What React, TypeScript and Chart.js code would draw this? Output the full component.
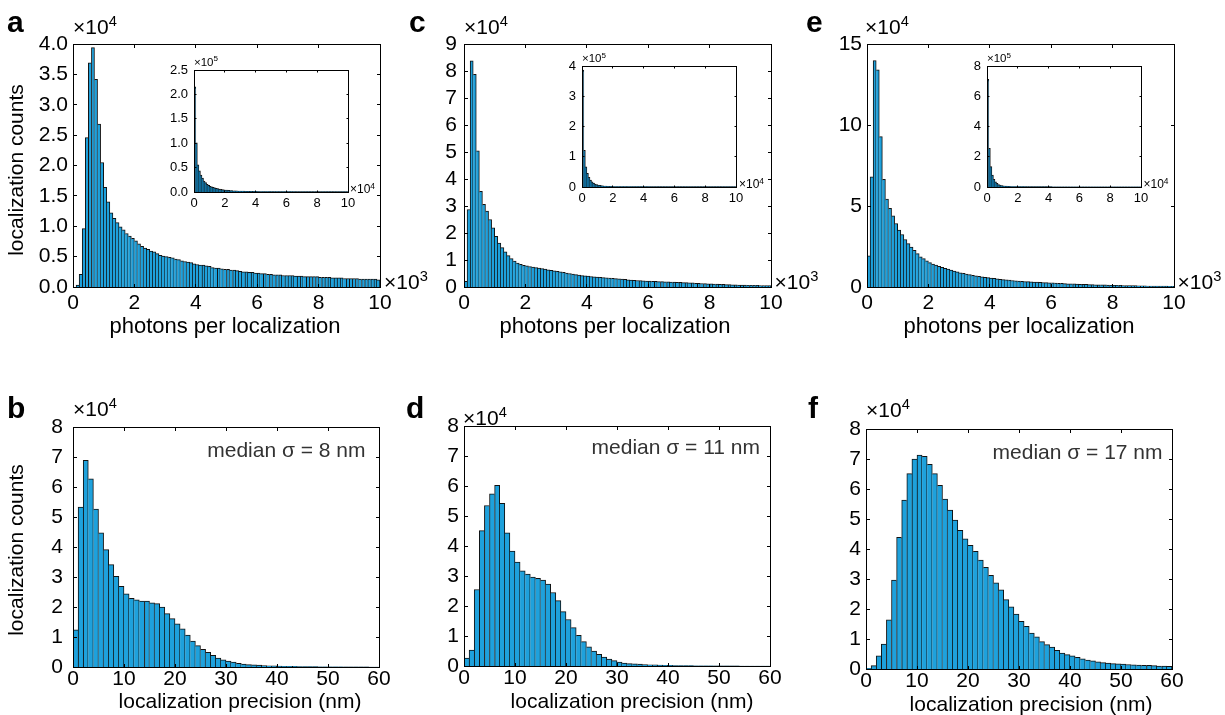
import React, { useEffect, useRef } from "react";
import { Chart, registerables } from "chart.js";
Chart.register(...registerables);

const FONT = "'Liberation Sans', Arial, Helvetica, sans-serif";
const BAR_FILL = "#1ea1dc";
const INSET_FILL = "#0f6f9f";
const BAR_EDGE = "#111111";

// ---------- data (counts, ×10^4 for main panels, ×10^5 for insets) ----------
const PHOTON_BIN = 0.1; // ×10^3 photons per bin
const INSET_BIN = 0.1; // ×10^4 photons per bin
const PRECISION_BIN = 1; // nm per bin

const photonsA = [
  0.0, 0.03, 0.21, 0.96, 2.46, 3.69, 3.94, 3.42, 2.68, 2.05,
  1.64, 1.4, 1.22, 1.13, 1.06, 0.99, 0.94, 0.88, 0.84, 0.8,
  0.76, 0.71, 0.67, 0.64, 0.62, 0.59, 0.58, 0.55, 0.52, 0.51,
  0.5, 0.49, 0.48, 0.46, 0.45, 0.43, 0.42, 0.41, 0.4, 0.38,
  0.37, 0.36, 0.36, 0.35, 0.34, 0.32, 0.31, 0.31, 0.3, 0.29,
  0.29, 0.28, 0.28, 0.27, 0.26, 0.25, 0.25, 0.24, 0.24, 0.23,
  0.23, 0.22, 0.22, 0.21, 0.21, 0.2, 0.2, 0.2, 0.19, 0.19,
  0.19, 0.19, 0.18, 0.18, 0.18, 0.17, 0.17, 0.17, 0.17, 0.17,
  0.16, 0.16, 0.16, 0.16, 0.15, 0.15, 0.15, 0.15, 0.14, 0.14,
  0.14, 0.14, 0.14, 0.13, 0.13, 0.13, 0.13, 0.13, 0.13, 0.12,
];
const photonsC = [
  0.21, 2.87, 8.38, 7.88, 5.04, 3.54, 3.06, 2.81, 2.5, 2.19,
  1.88, 1.63, 1.46, 1.3, 1.16, 1.05, 0.96, 0.89, 0.84, 0.8,
  0.78, 0.76, 0.74, 0.72, 0.7, 0.68, 0.66, 0.64, 0.62, 0.6,
  0.58, 0.56, 0.54, 0.52, 0.5, 0.48, 0.46, 0.44, 0.42, 0.41,
  0.4, 0.39, 0.38, 0.37, 0.36, 0.35, 0.34, 0.33, 0.32, 0.31,
  0.3, 0.29, 0.28, 0.27, 0.26, 0.25, 0.24, 0.24, 0.23, 0.22,
  0.22, 0.21, 0.21, 0.2, 0.2, 0.19, 0.19, 0.18, 0.18, 0.17,
  0.17, 0.16, 0.16, 0.15, 0.15, 0.14, 0.14, 0.13, 0.13, 0.12,
  0.12, 0.11, 0.11, 0.1, 0.1, 0.09, 0.09, 0.08, 0.08, 0.07,
  0.07, 0.07, 0.06, 0.06, 0.06, 0.06, 0.05, 0.05, 0.05, 0.05,
];
const photonsE = [
  1.92, 6.8, 13.98, 13.4, 9.28, 6.64, 5.42, 4.85, 4.39, 3.92,
  3.51, 3.24, 2.93, 2.68, 2.47, 2.27, 2.06, 1.86, 1.75, 1.61,
  1.5, 1.42, 1.35, 1.28, 1.22, 1.16, 1.1, 1.04, 0.98, 0.93,
  0.88, 0.84, 0.8, 0.76, 0.72, 0.69, 0.66, 0.63, 0.6, 0.58,
  0.55, 0.53, 0.5, 0.48, 0.46, 0.44, 0.42, 0.4, 0.38, 0.36,
  0.35, 0.34, 0.33, 0.32, 0.31, 0.3, 0.29, 0.28, 0.27, 0.26,
  0.25, 0.24, 0.23, 0.22, 0.21, 0.2, 0.19, 0.19, 0.18, 0.17,
  0.17, 0.16, 0.15, 0.15, 0.14, 0.14, 0.13, 0.13, 0.12, 0.11,
  0.11, 0.1, 0.1, 0.09, 0.09, 0.08, 0.08, 0.08, 0.07, 0.07,
  0.07, 0.06, 0.06, 0.06, 0.05, 0.05, 0.05, 0.05, 0.04, 0.04,
];
const insetA = [
  2.15, 1.0, 0.55, 0.43, 0.34, 0.28, 0.22, 0.19, 0.15, 0.13,
  0.11, 0.1, 0.09, 0.08, 0.07, 0.062, 0.055, 0.05, 0.045, 0.04,
  0.036, 0.032, 0.029, 0.026, 0.023, 0.021, 0.019, 0.017, 0.015, 0.014,
  0.013, 0.012, 0.011, 0.01, 0.009, 0.008, 0.008, 0.007, 0.007, 0.006,
  0.006, 0.005, 0.005, 0.005, 0.004, 0.004, 0.004, 0.004, 0.003, 0.003,
  0.003, 0.003, 0.003, 0.003, 0.002, 0.002, 0.002, 0.002, 0.002, 0.002,
  0.002, 0.002, 0.002, 0.002, 0.002, 0.001, 0.001, 0.001, 0.001, 0.001,
  0.001, 0.001, 0.001, 0.001, 0.001, 0.001, 0.001, 0.001, 0.001, 0.001,
  0.001, 0.001, 0.001, 0.001, 0.001, 0.001, 0.001, 0.001, 0.001, 0.001,
  0.001, 0.001, 0.001, 0.001, 0.001, 0.001, 0.001, 0.001, 0.001, 0.001,
];
const insetC = [
  3.86, 1.2, 0.66, 0.44, 0.31, 0.22, 0.16, 0.12, 0.09, 0.07,
  0.055, 0.045, 0.036, 0.03, 0.025, 0.02, 0.017, 0.014, 0.012, 0.01,
  0.009, 0.008, 0.007, 0.006, 0.005, 0.005, 0.004, 0.004, 0.003, 0.003,
  0.003, 0.002, 0.002, 0.002, 0.002, 0.002, 0.002, 0.002, 0.002, 0.002,
  0.002, 0.002, 0.002, 0.002, 0.001, 0.001, 0.001, 0.001, 0.001, 0.001,
  0.001, 0.001, 0.001, 0.001, 0.001, 0.001, 0.001, 0.001, 0.001, 0.001,
  0.001, 0.001, 0.001, 0.001, 0.001, 0.001, 0.001, 0.001, 0.001, 0.001,
  0.001, 0.001, 0.001, 0.001, 0.001, 0.001, 0.001, 0.001, 0.001, 0.001,
  0.001, 0.001, 0.001, 0.001, 0.001, 0.001, 0.001, 0.001, 0.001, 0.001,
  0.001, 0.001, 0.001, 0.001, 0.001, 0.001, 0.001, 0.001, 0.001, 0.001,
];
const insetE = [
  7.1, 2.54, 1.33, 0.77, 0.49, 0.33, 0.22, 0.15, 0.11, 0.08,
  0.06, 0.045, 0.035, 0.027, 0.021, 0.017, 0.013, 0.011, 0.009, 0.007,
  0.006, 0.005, 0.005, 0.004, 0.004, 0.003, 0.003, 0.003, 0.002, 0.002,
  0.002, 0.002, 0.002, 0.002, 0.002, 0.002, 0.002, 0.002, 0.002, 0.002,
  0.002, 0.002, 0.001, 0.001, 0.001, 0.001, 0.001, 0.001, 0.001, 0.001,
  0.001, 0.001, 0.001, 0.001, 0.001, 0.001, 0.001, 0.001, 0.001, 0.001,
  0.001, 0.001, 0.001, 0.001, 0.001, 0.001, 0.001, 0.001, 0.001, 0.001,
  0.001, 0.001, 0.001, 0.001, 0.001, 0.001, 0.001, 0.001, 0.001, 0.001,
  0.001, 0.001, 0.001, 0.001, 0.001, 0.001, 0.001, 0.001, 0.001, 0.001,
  0.001, 0.001, 0.001, 0.001, 0.001, 0.001, 0.001, 0.001, 0.001, 0.001,
];
const precisionB = [
  1.24, 5.33, 6.89, 6.27, 5.26, 4.47, 3.91, 3.41, 3.02, 2.69,
  2.44, 2.29, 2.24, 2.2, 2.2, 2.14, 2.11, 2.0, 1.78, 1.61,
  1.44, 1.27, 1.06, 0.86, 0.71, 0.59, 0.49, 0.39, 0.3, 0.24,
  0.2, 0.16, 0.12, 0.1, 0.08, 0.07, 0.06, 0.05, 0.04, 0.035,
  0.03, 0.025, 0.02, 0.02, 0.015, 0.012, 0.01, 0.01, 0.008, 0.006,
  0.005, 0.004, 0.004, 0.003, 0.003, 0.002, 0.002, 0.002, 0.001, 0.001,
];
const precisionD = [
  0.26, 0.53, 2.55, 4.51, 5.35, 5.74, 6.02, 5.42, 4.44, 3.83,
  3.46, 3.17, 3.06, 2.96, 2.92, 2.86, 2.73, 2.45, 2.18, 1.81,
  1.55, 1.28, 1.02, 0.81, 0.64, 0.5, 0.39, 0.3, 0.23, 0.18,
  0.13, 0.1, 0.08, 0.07, 0.06, 0.05, 0.04, 0.035, 0.03, 0.025,
  0.02, 0.018, 0.015, 0.012, 0.01, 0.008, 0.006, 0.005, 0.004, 0.003,
  0.003, 0.002, 0.002, 0.002, 0.001, 0.001, 0.001, 0.001, 0.001, 0.001,
];
const precisionF = [
  0.02, 0.11, 0.44, 0.83, 1.64, 2.96, 4.39, 5.63, 6.51, 7.0,
  7.13, 7.09, 6.82, 6.51, 6.12, 5.66, 5.3, 4.96, 4.62, 4.34,
  4.12, 3.92, 3.63, 3.39, 3.12, 2.87, 2.64, 2.31, 2.07, 1.83,
  1.59, 1.42, 1.2, 1.07, 0.91, 0.81, 0.73, 0.62, 0.53, 0.48,
  0.44, 0.39, 0.34, 0.3, 0.27, 0.24, 0.21, 0.2, 0.18, 0.17,
  0.16, 0.15, 0.14, 0.13, 0.12, 0.12, 0.11, 0.1, 0.1, 0.09,
];

// ---------- ticks ----------
const photonXTicks = [0, 2, 4, 6, 8, 10];
const photonXLabels = ["0", "2", "4", "6", "8", "10"];
const precisionXTicks = [0, 10, 20, 30, 40, 50, 60];
const precisionXLabels = ["0", "10", "20", "30", "40", "50", "60"];
const aYTicks = [0, 0.5, 1, 1.5, 2, 2.5, 3, 3.5, 4];
const aYLabels = ["0.0", "0.5", "1.0", "1.5", "2.0", "2.5", "3.0", "3.5", "4.0"];
const cYTicks = [0, 1, 2, 3, 4, 5, 6, 7, 8, 9];
const cYLabels = ["0", "1", "2", "3", "4", "5", "6", "7", "8", "9"];
const eYTicks = [0, 5, 10, 15];
const eYLabels = ["0", "5", "10", "15"];
const precYTicks = [0, 1, 2, 3, 4, 5, 6, 7, 8];
const precYLabels = ["0", "1", "2", "3", "4", "5", "6", "7", "8"];
const insetAYTicks = [0, 0.5, 1, 1.5, 2, 2.5];
const insetAYLabels = ["0.0", "0.5", "1.0", "1.5", "2.0", "2.5"];
const insetCYTicks = [0, 1, 2, 3, 4];
const insetCYLabels = ["0", "1", "2", "3", "4"];
const insetEYTicks = [0, 2, 4, 6, 8];
const insetEYLabels = ["0", "2", "4", "6", "8"];

type Spec = {
  values: number[];
  bin: number;
  xMax: number;
  yMax: number;
  xTicks: number[];
  xLabels: string[];
  yTicks: number[];
  yLabels: string[];
  plot: [number, number, number, number];
  margin: [number, number, number, number];
  font: number;
  xPad: number;
  yPad: number;
  tickLen: number;
  fill: string;
  inflate: number;
};

const framePlugin = {
  id: "frame",
  afterDraw(chart: any, _args: any, opts: any) {
    const { ctx, chartArea: a, scales } = chart;
    const L = opts.tickLen || 3;
    const px = (v: number) => Math.floor(v) + 0.5;
    ctx.save();
    ctx.strokeStyle = "#000";
    ctx.lineWidth = 1;
    ctx.beginPath();
    scales.x.ticks.forEach((t: any) => {
      const x = px(scales.x.getPixelForValue(t.value));
      ctx.moveTo(x, px(a.bottom));
      ctx.lineTo(x, px(a.bottom) - L);
      ctx.moveTo(x, px(a.top));
      ctx.lineTo(x, px(a.top) + L);
    });
    scales.y.ticks.forEach((t: any) => {
      const y = px(scales.y.getPixelForValue(t.value));
      ctx.moveTo(px(a.left), y);
      ctx.lineTo(px(a.left) + L, y);
      ctx.moveTo(px(a.right), y);
      ctx.lineTo(px(a.right) - L, y);
    });
    ctx.stroke();
    ctx.strokeRect(px(a.left), px(a.top), px(a.right) - px(a.left), px(a.bottom) - px(a.top));
    ctx.restore();
  },
};

function Hist({ spec }: { spec: Spec }) {
  const ref = useRef<HTMLCanvasElement>(null);
  const [l, t, r, b] = spec.plot;
  const [ml, mt, mr, mb] = spec.margin;
  const w = ml + (r - l) + mr;
  const h = mt + (b - t) + mb;
  useEffect(() => {
    const vals = spec.values;
    const n = vals.length;
    const font = { family: FONT, size: spec.font };
    const chart = new Chart(ref.current as HTMLCanvasElement, {
      type: "bar",
      data: {
        datasets: [
          {
            data: vals.map((v, i) => ({ x: (i + 0.5) * spec.bin, y: v })),
            backgroundColor: spec.fill,
            borderColor: BAR_EDGE,
            borderSkipped: "start",
            inflateAmount: spec.inflate,
            borderWidth: (c: any) => {
              const i = c.dataIndex;
              const v = vals[i];
              const prev = i > 0 ? vals[i - 1] : 0;
              const next = i < n - 1 ? vals[i + 1] : 0;
              return { top: 1, left: prev <= v ? 1 : 0, right: next < v ? 1 : 0, bottom: 0 };
            },
            barPercentage: 1,
            categoryPercentage: 1,
          } as any,
        ],
      },
      options: {
        responsive: false,
        animation: false,
        events: [],
        layout: { padding: { left: 0, top: mt, right: mr, bottom: 0 } },
        plugins: {
          legend: { display: false },
          tooltip: { enabled: false },
          frame: { tickLen: spec.tickLen },
        } as any,
        scales: {
          x: {
            type: "linear",
            min: 0,
            max: spec.xMax,
            offset: false,
            grid: { display: false, drawTicks: false, offset: false },
            border: { display: false },
            afterBuildTicks: (s: any) => {
              s.ticks = spec.xTicks.map((v) => ({ value: v }));
            },
            afterFit: (s: any) => {
              s.height = mb;
              s.paddingLeft = 0;
              s.paddingRight = 0;
            },
            ticks: {
              autoSkip: false,
              maxRotation: 0,
              minRotation: 0,
              padding: spec.xPad,
              color: "#000",
              font,
              callback: (_v: any, i: number) => spec.xLabels[i],
            },
          },
          y: {
            type: "linear",
            min: 0,
            max: spec.yMax,
            grid: { display: false, drawTicks: false },
            border: { display: false },
            afterBuildTicks: (s: any) => {
              s.ticks = spec.yTicks.map((v) => ({ value: v }));
            },
            afterFit: (s: any) => {
              s.width = ml;
              s.paddingTop = 0;
              s.paddingBottom = 0;
            },
            ticks: {
              autoSkip: false,
              padding: spec.yPad,
              color: "#000",
              font,
              callback: (_v: any, i: number) => spec.yLabels[i],
            },
          },
        } as any,
      },
      plugins: [framePlugin as any],
    });
    return () => chart.destroy();
  }, [spec]);
  return (
    <canvas
      ref={ref}
      width={w}
      height={h}
      style={{ position: "absolute", left: l - ml, top: t - mt, width: w, height: h }}
    />
  );
}

function Txt({
  x, y, size, bold, align = "left", color = "#000", children,
}: {
  x: number; y: number; size: number; bold?: boolean; align?: string; color?: string; children: any;
}) {
  const tx = align === "center" ? "-50%" : align === "right" ? "-100%" : "0";
  return (
    <div
      style={{
        position: "absolute",
        left: x,
        top: y - 0.8465 * size,
        fontFamily: FONT,
        fontSize: size,
        fontWeight: bold ? 700 : 400,
        lineHeight: 1,
        whiteSpace: "nowrap",
        color,
        transform: `translateX(${tx})`,
      }}
    >
      {children}
    </div>
  );
}

function Pow({ x, y, size, exp }: { x: number; y: number; size: number; exp: string }) {
  return (
    <Txt x={x} y={y} size={size}>
      ×10
      <span style={{ fontSize: "0.7em", position: "relative", top: "-0.55em" }}>{exp}</span>
    </Txt>
  );
}

const MAIN_FONT = 21;
const TITLE_FONT = 21;
const TOP_TITLE_FONT = 22;
const INSET_FONT = 13;
const LETTER_FONT = 30;

const specs: Spec[] = [
  { values: photonsA, bin: PHOTON_BIN, xMax: 10, yMax: 4, xTicks: photonXTicks, xLabels: photonXLabels, yTicks: aYTicks, yLabels: aYLabels, plot: [73, 44, 380, 287], margin: [60, 12, 16, 40], font: MAIN_FONT, xPad: 4, yPad: 5, tickLen: 3.5, fill: BAR_FILL, inflate: 0.33 },
  { values: photonsC, bin: PHOTON_BIN, xMax: 10, yMax: 9, xTicks: photonXTicks, xLabels: photonXLabels, yTicks: cYTicks, yLabels: cYLabels, plot: [464, 44, 771, 287], margin: [60, 12, 16, 40], font: MAIN_FONT, xPad: 4, yPad: 7, tickLen: 3.5, fill: BAR_FILL, inflate: 0.33 },
  { values: photonsE, bin: PHOTON_BIN, xMax: 10, yMax: 15, xTicks: photonXTicks, xLabels: photonXLabels, yTicks: eYTicks, yLabels: eYLabels, plot: [867, 44, 1174, 287], margin: [60, 12, 16, 40], font: MAIN_FONT, xPad: 4, yPad: 5, tickLen: 3.5, fill: BAR_FILL, inflate: 0.33 },
  { values: precisionB, bin: PRECISION_BIN, xMax: 60, yMax: 8, xTicks: precisionXTicks, xLabels: precisionXLabels, yTicks: precYTicks, yLabels: precYLabels, plot: [73, 427, 379, 667], margin: [60, 12, 16, 34], font: MAIN_FONT, xPad: 0, yPad: 10, tickLen: 3.5, fill: BAR_FILL, inflate: 0.33 },
  { values: precisionD, bin: PRECISION_BIN, xMax: 60, yMax: 8, xTicks: precisionXTicks, xLabels: precisionXLabels, yTicks: precYTicks, yLabels: precYLabels, plot: [464, 426, 770, 666], margin: [60, 12, 16, 34], font: MAIN_FONT, xPad: 0, yPad: 5, tickLen: 3.5, fill: BAR_FILL, inflate: 0.33 },
  { values: precisionF, bin: PRECISION_BIN, xMax: 60, yMax: 8, xTicks: precisionXTicks, xLabels: precisionXLabels, yTicks: precYTicks, yLabels: precYLabels, plot: [866, 429, 1172, 669], margin: [60, 12, 16, 34], font: MAIN_FONT, xPad: 0, yPad: 5, tickLen: 3.5, fill: BAR_FILL, inflate: 0.33 },
  { values: insetA, bin: INSET_BIN, xMax: 10, yMax: 2.5, xTicks: photonXTicks, xLabels: photonXLabels, yTicks: insetAYTicks, yLabels: insetAYLabels, plot: [194, 70, 348, 192], margin: [34, 6, 8, 22], font: INSET_FONT, xPad: 4, yPad: 6, tickLen: 2, fill: INSET_FILL, inflate: 0.6 },
  { values: insetC, bin: INSET_BIN, xMax: 10, yMax: 4, xTicks: photonXTicks, xLabels: photonXLabels, yTicks: insetCYTicks, yLabels: insetCYLabels, plot: [582, 66, 736, 187], margin: [34, 6, 8, 22], font: INSET_FONT, xPad: 4, yPad: 6, tickLen: 2, fill: INSET_FILL, inflate: 0.6 },
  { values: insetE, bin: INSET_BIN, xMax: 10, yMax: 8, xTicks: photonXTicks, xLabels: photonXLabels, yTicks: insetEYTicks, yLabels: insetEYLabels, plot: [987, 66, 1141, 187], margin: [34, 6, 8, 22], font: INSET_FONT, xPad: 4, yPad: 6, tickLen: 2, fill: INSET_FILL, inflate: 0.6 },
];

export default function App() {
  return (
    <div style={{ position: "absolute", left: 0, top: 0, width: 1225, height: 715, background: "#fff", overflow: "hidden" }}>
      {specs.map((s, i) => (
        <Hist key={i} spec={s} />
      ))}

      {/* panel letters */}
      <Txt x={7} y={32} size={LETTER_FONT} bold>a</Txt>
      <Txt x={409} y={32} size={LETTER_FONT} bold>c</Txt>
      <Txt x={806} y={32} size={LETTER_FONT} bold>e</Txt>
      <Txt x={7} y={418.5} size={LETTER_FONT} bold>b</Txt>
      <Txt x={406} y={418.5} size={LETTER_FONT} bold>d</Txt>
      <Txt x={808} y={418.5} size={LETTER_FONT} bold>f</Txt>

      {/* exponent labels */}
      <Pow x={73} y={33.5} size={21} exp="4" />
      <Pow x={464} y={34} size={21} exp="4" />
      <Pow x={865} y={34} size={21} exp="4" />
      <Pow x={73} y={416} size={21} exp="4" />
      <Pow x={463} y={424.5} size={21} exp="4" />
      <Pow x={866} y={416.5} size={21} exp="4" />
      <Pow x={384} y={288.5} size={21} exp="3" />
      <Pow x={774.5} y={288.5} size={21} exp="3" />
      <Pow x={1177.5} y={288.5} size={21} exp="3" />
      <Pow x={194} y={66.5} size={11.5} exp="5" />
      <Pow x={582} y={63} size={11.5} exp="5" />
      <Pow x={987} y={63} size={11.5} exp="5" />
      <Pow x={350} y={193.5} size={12} exp="4" />
      <Pow x={739} y={188.5} size={12} exp="4" />
      <Pow x={1143.5} y={188.5} size={12} exp="4" />

      {/* axis titles */}
      <Txt x={225} y={334} size={TOP_TITLE_FONT} align="center">photons per localization</Txt>
      <Txt x={615} y={334} size={TOP_TITLE_FONT} align="center">photons per localization</Txt>
      <Txt x={1019} y={334} size={TOP_TITLE_FONT} align="center">photons per localization</Txt>
      <Txt x={240} y={708} size={TITLE_FONT} align="center">localization precision (nm)</Txt>
      <Txt x={632} y={708} size={TITLE_FONT} align="center">localization precision (nm)</Txt>
      <Txt x={1031} y={711} size={TITLE_FONT} align="center">localization precision (nm)</Txt>
      {[170, 550].map((cy) => (
        <div
          key={cy}
          style={{
            position: "absolute",
            left: 15,
            top: cy,
            fontFamily: FONT,
            fontSize: TITLE_FONT,
            lineHeight: 1,
            whiteSpace: "nowrap",
            color: "#000",
            transform: "translate(-50%, -50%) rotate(-90deg)",
          }}
        >
          localization counts
        </div>
      ))}

      {/* medians */}
      <Txt x={365.5} y={456.5} size={TITLE_FONT} align="right" color="#333">median σ = 8 nm</Txt>
      <Txt x={760} y={453.5} size={TITLE_FONT} align="right" color="#333">median σ = 11 nm</Txt>
      <Txt x={1162.5} y={459} size={TITLE_FONT} align="right" color="#333">median σ = 17 nm</Txt>
    </div>
  );
}
